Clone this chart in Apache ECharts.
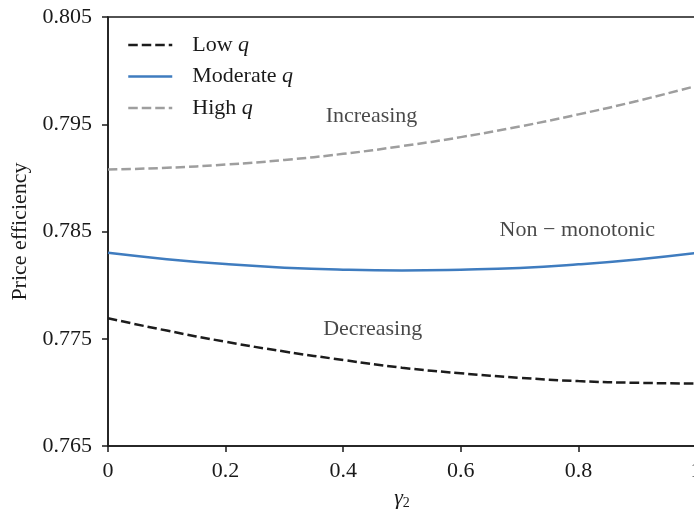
<!DOCTYPE html>
<html>
<head>
<meta charset="utf-8">
<script src="https://cdn.jsdelivr.net/npm/echarts@6/dist/echarts.min.js"></script>
<style>
  html, body { margin: 0; padding: 0; background: #fff; }
  #chart { width: 694px; height: 511px; }
</style>
</head>
<body>
<div id="chart"></div>
<script>
// gamma_2 grid
const gamma2 = [0, 0.1, 0.2, 0.3, 0.4, 0.5, 0.6, 0.7, 0.8, 0.9, 1.0];

// Price efficiency for each q regime
const lowQ = [0.77691, 0.77576, 0.77472, 0.77381, 0.77302, 0.77230, 0.77178, 0.77136, 0.77105, 0.77089, 0.77083];
const moderateQ = [0.78301, 0.78242, 0.78196, 0.78163, 0.78144, 0.78137, 0.78144, 0.78160, 0.78194, 0.78240, 0.78300];
const highQ = [0.79078, 0.79094, 0.79124, 0.79167, 0.79224, 0.79296, 0.79380, 0.79479, 0.79592, 0.79717, 0.79857];

const seriesNames = ['Low q', 'Moderate q', 'High q'];

// Tick labels
const xTicks = [0, 0.2, 0.4, 0.6, 0.8, 1];
const yTicks = [0.765, 0.775, 0.785, 0.795, 0.805];

// Regime annotations: [gamma2, efficiency, text]
const notes = [
  [0.449, 0.79568, 'Increasing'],
  [0.799, 0.78505, 'Non \u2212 monotonic'],
  [0.451, 0.77582, 'Decreasing']
];

const FONT = '"Liberation Serif", "DejaVu Serif", serif';
const TXT = '#1a1a1a';
const FS = 22;

const pairs = ys => gamma2.map((x, i) => [x, ys[i]]);

function lineSeries(name, ys, color, dashed) {
  return {
    name: name,
    type: 'line',
    data: pairs(ys),
    smooth: true,
    symbol: 'none',
    showSymbol: false,
    silent: true,
    lineStyle: {
      color: color,
      width: 2.5,
      type: dashed ? [9.5, 4] : 'solid',
      cap: 'butt'
    },
    itemStyle: { color: color },
    z: 3
  };
}

const chart = echarts.init(document.getElementById('chart'), null, { renderer: 'canvas' });

chart.setOption({
  animation: false,
  backgroundColor: '#ffffff',
  grid: {
    left: 108, right: -2, top: 17, bottom: 65,
    containLabel: false,
    outerBoundsMode: 'none',
    show: true, borderColor: '#1a1a1a', borderWidth: 1.5,
    backgroundColor: 'transparent'
  },
  legend: {
    orient: 'vertical',
    left: 122,
    top: 29,
    itemWidth: 44,
    itemHeight: 22,
    itemGap: 9.5,
    data: seriesNames,
    itemStyle: { opacity: 0, borderWidth: 0 },
    lineStyle: { width: 2.5 },
    formatter: name => '{n|' + name.replace(/ q$/, ' ') + '}{q|q}',
    textStyle: {
      fontFamily: FONT,
      fontSize: FS,
      color: TXT,
      rich: {
        n: { fontFamily: FONT, fontSize: FS, color: TXT, padding: [0, 0, 0, 15] },
        q: { fontFamily: FONT, fontSize: FS, color: TXT, fontStyle: 'italic' }
      }
    }
  },
  xAxis: {
    type: 'value',
    min: 0, max: 1, interval: 0.2,
    name: '{g|\u03b3}{s|2}',
    nameLocation: 'middle',
    nameGap: 40,
    nameTextStyle: {
      rich: {
        g: { fontFamily: FONT, fontSize: FS, fontStyle: 'italic', color: TXT },
        s: { fontFamily: FONT, fontSize: 14, color: TXT, padding: [10, 0, 0, 0] }
      }
    },
    axisLine: { show: true, lineStyle: { color: '#1a1a1a', width: 1.5 } },
    axisTick: { show: true, inside: false, length: 6, lineStyle: { color: '#1a1a1a', width: 1.5 } },
    axisLabel: {
      margin: 14,
      fontFamily: FONT, fontSize: FS, color: TXT,
      showMaxLabel: true,
      formatter: v => {
        const hit = xTicks.find(t => Math.abs(t - v) < 1e-9);
        return hit === undefined ? '' : (hit === 0 || hit === 1 ? String(hit) : hit.toFixed(1));
      }
    },
    splitLine: { show: false }
  },
  yAxis: {
    type: 'value',
    min: yTicks[0], max: yTicks[yTicks.length - 1], interval: 0.01,
    name: 'Price efficiency',
    nameLocation: 'middle',
    nameGap: 77,
    nameRotate: 90,
    nameTextStyle: { fontFamily: FONT, fontSize: FS, color: TXT },
    axisLine: { show: true, lineStyle: { color: '#1a1a1a', width: 1.5 } },
    axisTick: { show: true, inside: false, length: 6, lineStyle: { color: '#1a1a1a', width: 1.5 } },
    axisLabel: {
      margin: 16,
      fontFamily: FONT, fontSize: FS, color: TXT,
      showMinLabel: true, showMaxLabel: true,
      formatter: v => v.toFixed(3)
    },
    splitLine: { show: false }
  },
  series: [
    lineSeries(seriesNames[0], lowQ, '#1c1c1c', true),
    lineSeries(seriesNames[1], moderateQ, '#3f7cbf', false),
    lineSeries(seriesNames[2], highQ, '#9e9e9e', true),
    {
      name: 'notes',
      type: 'scatter',
      data: notes.map(n => ({ value: [n[0], n[1]], label: { formatter: n[2] } })),
      symbolSize: 1,
      itemStyle: { color: 'transparent' },
      silent: true,
      label: {
        show: true,
        position: [0, 0],
        align: 'center',
        verticalAlign: 'middle',
        fontFamily: FONT,
        fontSize: FS,
        color: TXT,
        textBorderWidth: 0
      },
      z: 4
    }
  ]
});
</script>
</body>
</html>
